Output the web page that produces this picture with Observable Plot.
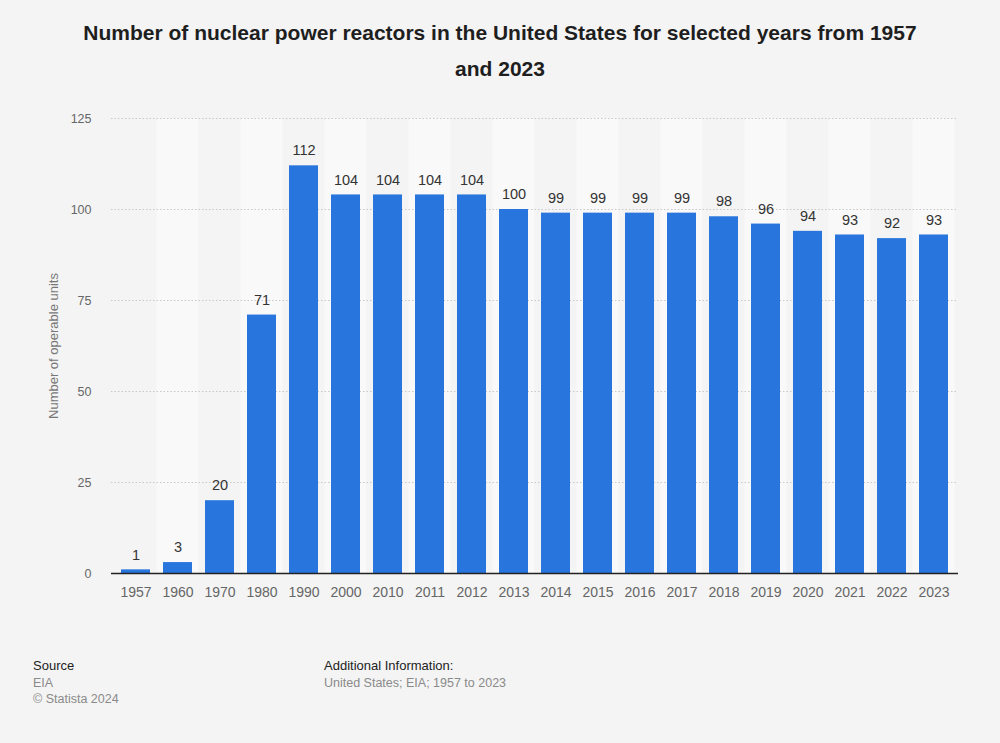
<!DOCTYPE html>
<html>
<head>
<meta charset="utf-8">
<script src="https://cdn.jsdelivr.net/npm/d3@7"></script>
<script src="https://cdn.jsdelivr.net/npm/@observablehq/plot@0.6"></script>
<style>
  html, body { margin: 0; padding: 0; background: #f4f4f4; width: 1000px; height: 743px; overflow: hidden; font-family: "Liberation Sans", Arial, sans-serif; }
  #title { height: 100px; box-sizing: border-box; padding: 15px 70px 0 70px; text-align: center; font-weight: bold; font-size: 21px; line-height: 36px; color: #1e1e1e; }
  #chart { height: 530px; }
  #footer { position: relative; height: 113px; font-size: 12.5px; }
  .col { position: absolute; top: 28px; line-height: 16.5px; }
  .head { color: #222; font-size: 13px; }
  .sub { color: #8a8a8a; }
</style>
</head>
<body>
<div id="title">Number of nuclear power reactors in the United States for selected years from 1957 and 2023</div>
<div id="chart"></div>
<div id="footer">
  <div class="col" style="left:33px"><div class="head">Source</div><div class="sub">EIA</div><div class="sub">© Statista 2024</div></div>
  <div class="col" style="left:324px"><div class="head">Additional Information:</div><div class="sub">United States; EIA; 1957 to 2023</div></div>
</div>
<script>
const years = ["1957","1960","1970","1980","1990","2000","2010","2011","2012","2013","2014","2015","2016","2017","2018","2019","2020","2021","2022","2023"];
const units = [1,3,20,71,112,104,104,104,104,100,99,99,99,99,98,96,94,93,92,93];
const yTicks = [0,25,50,75,100,125];

const data = years.map((y, i) => ({year: y, value: units[i], i}));
const W = 1000, mL = 111, mR = 42;
const padIn = 0.3, padOut = 0.15;
const step = (W - mL - mR) / (years.length - padIn + 2 * padOut);
const stripeInset = -step * padIn / 2;

const chart = Plot.plot({
  width: W,
  height: 530,
  marginTop: 18,
  marginBottom: 57,
  marginLeft: mL,
  marginRight: mR,
  style: {background: "transparent", fontFamily: "'Liberation Sans', Arial, sans-serif"},
  x: {domain: years, paddingInner: padIn, paddingOuter: padOut, label: null},
  y: {domain: [0, 125], label: null},
  marks: [
    Plot.barY(data.filter(d => d.i % 2 === 1), {x: "year", y1: 0, y2: 125, fill: "#f9f9f9", insetLeft: stripeInset, insetRight: stripeInset}),
    Plot.gridY(yTicks.filter(t => t > 0), {stroke: "#c8c8c8", strokeOpacity: 1, strokeDasharray: "1.5,2", strokeWidth: 1}),
    Plot.barY(data, {x: "year", y: "value", fill: "#2875dd"}),
    Plot.ruleY([0], {stroke: "#222", strokeWidth: 1.5}),
    Plot.text(data, {x: "year", y: "value", text: d => String(d.value), dy: -15, fontSize: 14.5, fill: "#333"}),
    Plot.axisX({tickSize: 0, tickPadding: 14, fontSize: 14, color: "#666", label: null}),
    Plot.axisY({ticks: yTicks, tickSize: 0, tickPadding: 20, fontSize: 12.5, color: "#666", label: null}),
    Plot.text(["Number of operable units"], {frameAnchor: "left", textAnchor: "middle", dx: -58, rotate: -90, fontSize: 13, fill: "#777"})
  ]
});
document.getElementById("chart").appendChild(chart);
</script>
</body>
</html>
